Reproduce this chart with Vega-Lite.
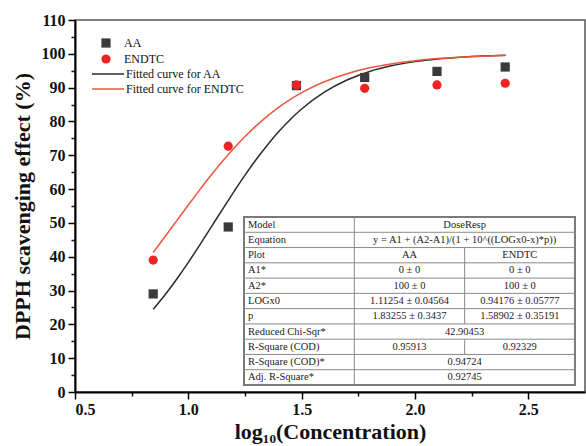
{
  "$schema": "https://vega.github.io/schema/vega-lite/v6.json",
  "width": 510,
  "height": 372,
  "autosize": {"type": "none"},
  "padding": {"left": 75, "top": 20, "right": 1, "bottom": 54},
  "background": "white",
  "config": {
    "view": {"stroke": "#555555", "strokeWidth": 1.5},
    "font": "Liberation Serif",
    "legend": {"labelFont": "Liberation Serif", "labelFontSize": 12, "labelColor": "#111111", "padding": 0, "title": null}
  },
  "datasets": {
    "pts": [
      {"logc": 0.845, "effect": 29.0, "series": "AA"},
      {"logc": 1.176, "effect": 48.8, "series": "AA"},
      {"logc": 1.477, "effect": 90.6, "series": "AA"},
      {"logc": 1.778, "effect": 93.0, "series": "AA"},
      {"logc": 2.097, "effect": 94.8, "series": "AA"},
      {"logc": 2.398, "effect": 96.1, "series": "AA"},
      {"logc": 0.845, "effect": 39.0, "series": "ENDTC"},
      {"logc": 1.176, "effect": 72.7, "series": "ENDTC"},
      {"logc": 1.477, "effect": 90.8, "series": "ENDTC"},
      {"logc": 1.778, "effect": 89.8, "series": "ENDTC"},
      {"logc": 2.097, "effect": 90.8, "series": "ENDTC"},
      {"logc": 2.398, "effect": 91.3, "series": "ENDTC"}
    ],
    "fit": [
      {"logc": 0.845, "effect": 24.44, "curve": "Fitted curve for AA"},
      {"logc": 0.9, "effect": 28.97, "curve": "Fitted curve for AA"},
      {"logc": 0.95, "effect": 33.5, "curve": "Fitted curve for AA"},
      {"logc": 1.0, "effect": 38.35, "curve": "Fitted curve for AA"},
      {"logc": 1.05, "effect": 43.44, "curve": "Fitted curve for AA"},
      {"logc": 1.1, "effect": 48.68, "curve": "Fitted curve for AA"},
      {"logc": 1.15, "effect": 53.94, "curve": "Fitted curve for AA"},
      {"logc": 1.2, "effect": 59.12, "curve": "Fitted curve for AA"},
      {"logc": 1.25, "effect": 64.11, "curve": "Fitted curve for AA"},
      {"logc": 1.3, "effect": 68.81, "curve": "Fitted curve for AA"},
      {"logc": 1.35, "effect": 73.14, "curve": "Fitted curve for AA"},
      {"logc": 1.4, "effect": 77.08, "curve": "Fitted curve for AA"},
      {"logc": 1.45, "effect": 80.6, "curve": "Fitted curve for AA"},
      {"logc": 1.5, "effect": 83.69, "curve": "Fitted curve for AA"},
      {"logc": 1.6, "effect": 88.66, "curve": "Fitted curve for AA"},
      {"logc": 1.7, "effect": 92.26, "curve": "Fitted curve for AA"},
      {"logc": 1.8, "effect": 94.79, "curve": "Fitted curve for AA"},
      {"logc": 1.9, "effect": 96.52, "curve": "Fitted curve for AA"},
      {"logc": 2.0, "effect": 97.69, "curve": "Fitted curve for AA"},
      {"logc": 2.1, "effect": 98.47, "curve": "Fitted curve for AA"},
      {"logc": 2.2, "effect": 98.99, "curve": "Fitted curve for AA"},
      {"logc": 2.3, "effect": 99.34, "curve": "Fitted curve for AA"},
      {"logc": 2.4, "effect": 99.56, "curve": "Fitted curve for AA"},
      {"logc": 0.845, "effect": 41.24, "curve": "Fitted curve for ENDTC"},
      {"logc": 0.9, "effect": 46.19, "curve": "Fitted curve for ENDTC"},
      {"logc": 0.95, "effect": 50.75, "curve": "Fitted curve for ENDTC"},
      {"logc": 1.0, "effect": 55.31, "curve": "Fitted curve for ENDTC"},
      {"logc": 1.05, "effect": 59.76, "curve": "Fitted curve for ENDTC"},
      {"logc": 1.1, "effect": 64.08, "curve": "Fitted curve for ENDTC"},
      {"logc": 1.15, "effect": 68.18, "curve": "Fitted curve for ENDTC"},
      {"logc": 1.2, "effect": 72.01, "curve": "Fitted curve for ENDTC"},
      {"logc": 1.25, "effect": 75.55, "curve": "Fitted curve for ENDTC"},
      {"logc": 1.3, "effect": 78.76, "curve": "Fitted curve for ENDTC"},
      {"logc": 1.35, "effect": 81.66, "curve": "Fitted curve for ENDTC"},
      {"logc": 1.4, "effect": 84.25, "curve": "Fitted curve for ENDTC"},
      {"logc": 1.45, "effect": 86.52, "curve": "Fitted curve for ENDTC"},
      {"logc": 1.5, "effect": 88.52, "curve": "Fitted curve for ENDTC"},
      {"logc": 1.6, "effect": 91.75, "curve": "Fitted curve for ENDTC"},
      {"logc": 1.7, "effect": 94.13, "curve": "Fitted curve for ENDTC"},
      {"logc": 1.8, "effect": 95.85, "curve": "Fitted curve for ENDTC"},
      {"logc": 1.9, "effect": 97.09, "curve": "Fitted curve for ENDTC"},
      {"logc": 2.0, "effect": 97.96, "curve": "Fitted curve for ENDTC"},
      {"logc": 2.1, "effect": 98.58, "curve": "Fitted curve for ENDTC"},
      {"logc": 2.2, "effect": 99.01, "curve": "Fitted curve for ENDTC"},
      {"logc": 2.3, "effect": 99.31, "curve": "Fitted curve for ENDTC"},
      {"logc": 2.4, "effect": 99.52, "curve": "Fitted curve for ENDTC"}
    ],
    "tleft": [
      {"row": 0, "label": "Model"},
      {"row": 1, "label": "Equation"},
      {"row": 2, "label": "Plot"},
      {"row": 3, "label": "A1*"},
      {"row": 4, "label": "A2*"},
      {"row": 5, "label": "LOGx0"},
      {"row": 6, "label": "p"},
      {"row": 7, "label": "Reduced Chi-Sqr*"},
      {"row": 8, "label": "R-Square (COD)"},
      {"row": 9, "label": "R-Square (COD)*"},
      {"row": 10, "label": "Adj. R-Square*"}
    ],
    "tcenter": [
      {"row": 0, "col": 2, "label": "DoseResp"},
      {"row": 1, "col": 2, "label": "y = A1 + (A2-A1)/(1 + 10^((LOGx0-x)*p))"},
      {"row": 2, "col": 1.5, "label": "AA"},
      {"row": 2, "col": 2.5, "label": "ENDTC"},
      {"row": 3, "col": 1.5, "label": "0 ± 0"},
      {"row": 3, "col": 2.5, "label": "0 ± 0"},
      {"row": 4, "col": 1.5, "label": "100 ± 0"},
      {"row": 4, "col": 2.5, "label": "100 ± 0"},
      {"row": 5, "col": 1.5, "label": "1.11254 ± 0.04564"},
      {"row": 5, "col": 2.5, "label": "0.94176 ± 0.05777"},
      {"row": 6, "col": 1.5, "label": "1.83255 ± 0.3437"},
      {"row": 6, "col": 2.5, "label": "1.58902 ± 0.35191"},
      {"row": 7, "col": 2, "label": "42.90453"},
      {"row": 8, "col": 1.5, "label": "0.95913"},
      {"row": 8, "col": 2.5, "label": "0.92329"},
      {"row": 9, "col": 2, "label": "0.94724"},
      {"row": 10, "col": 2, "label": "0.92745"}
    ],
    "hlines": [
      {"r": 1}, {"r": 2}, {"r": 3}, {"r": 4}, {"r": 5}, {"r": 6}, {"r": 7}, {"r": 8}, {"r": 9}, {"r": 10}
    ],
    "vlines": [
      {"c": 1, "r0": 0, "r1": 11},
      {"c": 2, "r0": 2, "r1": 7},
      {"c": 2, "r0": 8, "r1": 9}
    ],
    "frame": [{"part": "table"}]
  },
  "layer": [
    {
      "layer": [
        {
          "data": {"name": "fit"},
          "mark": {"type": "line", "strokeWidth": 1.5, "interpolate": "monotone"},
          "encoding": {
            "x": {"field": "logc", "type": "quantitative",
              "scale": {"domain": [0.5, 2.75], "nice": false, "zero": false},
              "axis": {"orient": "bottom", "values": [0.75, 1.25, 1.75, 2.25], "labels": false, "domain": false, "grid": false, "title": null, "tickSize": 4, "tickWidth": 1.5, "tickColor": "#111111"}},
            "y": {"field": "effect", "type": "quantitative",
              "scale": {"domain": [0, 110], "nice": false, "zero": false},
              "axis": {"orient": "left", "values": [5, 15, 25, 35, 45, 55, 65, 75, 85, 95, 105], "labels": false, "domain": false, "grid": false, "title": null, "tickSize": 4, "tickWidth": 1.5, "tickColor": "#111111"}},
            "stroke": {"field": "curve", "type": "nominal",
              "scale": {"domain": ["Fitted curve for AA", "Fitted curve for ENDTC"], "range": ["#2b2b2b", "#f0553f"]},
              "legend": {"orient": "none", "legendX": 24, "legendY": 45, "symbolType": "M-2,0H2", "symbolSize": 256, "symbolStrokeWidth": 1.5, "symbolFillColor": "transparent", "labelOffset": 9, "rowPadding": 0}}
          }
        },
        {
          "data": {"name": "pts"},
          "mark": {"type": "point", "filled": true, "opacity": 1, "size": 85},
          "encoding": {
            "x": {"field": "logc", "type": "quantitative",
              "scale": {"domain": [0.5, 2.75], "nice": false, "zero": false},
              "axis": {"orient": "bottom", "values": [0.5, 1.0, 1.5, 2.0, 2.5], "format": ".1f", "grid": false,
                "domainColor": "#000000", "domainWidth": 2, "tickColor": "#000000", "tickWidth": 1.5, "tickSize": 7,
                "labelFont": "Liberation Serif", "labelFontWeight": "bold", "labelFontSize": 16, "labelColor": "#111111", "labelPadding": 2,
                "title": "log₁₀(Concentration)", "titleFont": "Liberation Serif", "titleFontWeight": "bold", "titleFontSize": 22, "titleColor": "#111111", "titlePadding": 4}},
            "y": {"field": "effect", "type": "quantitative",
              "scale": {"domain": [0, 110], "nice": false, "zero": false},
              "axis": {"orient": "left", "values": [0, 10, 20, 30, 40, 50, 60, 70, 80, 90, 100, 110], "grid": false,
                "domainColor": "#000000", "domainWidth": 2, "tickColor": "#000000", "tickWidth": 1.5, "tickSize": 7,
                "labelFont": "Liberation Serif", "labelFontWeight": "bold", "labelFontSize": 16, "labelColor": "#111111", "labelPadding": 3,
                "title": "DPPH scavenging effect (%)", "titleFont": "Liberation Serif", "titleFontWeight": "bold", "titleFontSize": 22, "titleColor": "#111111", "titlePadding": 7}},
            "color": {"field": "series", "type": "nominal",
              "scale": {"domain": ["AA", "ENDTC"], "range": ["#3a3a3a", "#ee2424"]},
              "legend": {"orient": "none", "legendX": 25, "legendY": 17, "symbolSize": 85, "labelOffset": 12, "rowPadding": 4}},
            "shape": {"field": "series", "type": "nominal",
              "scale": {"domain": ["AA", "ENDTC"], "range": ["square", "circle"]}}
          }
        }
      ],
      "resolve": {"axis": {"x": "independent", "y": "independent"}}
    },
    {
      "layer": [
        {
          "data": {"name": "frame"},
          "mark": {"type": "rect", "fill": "white", "stroke": "#7a7a7a", "strokeWidth": 2},
          "encoding": {
            "x": {"datum": 0, "type": "quantitative", "scale": {"domain": [-1.532, 3.091], "nice": false, "zero": false}, "axis": null},
            "x2": {"datum": 3},
            "y": {"datum": 0, "type": "quantitative", "scale": {"domain": [-12.9, 11.458], "nice": false, "zero": false, "reverse": true}, "axis": null},
            "y2": {"datum": 11}
          }
        },
        {
          "data": {"name": "hlines"},
          "mark": {"type": "rule", "stroke": "#8a8a8a", "strokeWidth": 1},
          "encoding": {
            "x": {"datum": 0, "type": "quantitative", "scale": {"domain": [-1.532, 3.091], "nice": false, "zero": false}, "axis": null},
            "x2": {"datum": 3},
            "y": {"field": "r", "type": "quantitative", "scale": {"domain": [-12.9, 11.458], "nice": false, "zero": false, "reverse": true}, "axis": null}
          }
        },
        {
          "data": {"name": "vlines"},
          "mark": {"type": "rule", "stroke": "#8a8a8a", "strokeWidth": 1},
          "encoding": {
            "x": {"field": "c", "type": "quantitative", "scale": {"domain": [-1.532, 3.091], "nice": false, "zero": false}, "axis": null},
            "y": {"field": "r0", "type": "quantitative", "scale": {"domain": [-12.9, 11.458], "nice": false, "zero": false, "reverse": true}, "axis": null},
            "y2": {"field": "r1"}
          }
        },
        {
          "data": {"name": "tleft"},
          "mark": {"type": "text", "align": "left", "baseline": "middle", "dx": 4, "dy": 7.6, "font": "Liberation Serif", "fontSize": 10.5, "color": "#222222"},
          "encoding": {
            "x": {"datum": 0, "type": "quantitative", "scale": {"domain": [-1.532, 3.091], "nice": false, "zero": false}, "axis": null},
            "y": {"field": "row", "type": "quantitative", "scale": {"domain": [-12.9, 11.458], "nice": false, "zero": false, "reverse": true}, "axis": null},
            "text": {"field": "label", "type": "nominal"}
          }
        },
        {
          "data": {"name": "tcenter"},
          "mark": {"type": "text", "align": "center", "baseline": "middle", "dy": 7.6, "font": "Liberation Serif", "fontSize": 10.5, "color": "#222222"},
          "encoding": {
            "x": {"field": "col", "type": "quantitative", "scale": {"domain": [-1.532, 3.091], "nice": false, "zero": false}, "axis": null},
            "y": {"field": "row", "type": "quantitative", "scale": {"domain": [-12.9, 11.458], "nice": false, "zero": false, "reverse": true}, "axis": null},
            "text": {"field": "label", "type": "nominal"}
          }
        }
      ]
    }
  ],
  "resolve": {"scale": {"x": "independent", "y": "independent"}}
}
